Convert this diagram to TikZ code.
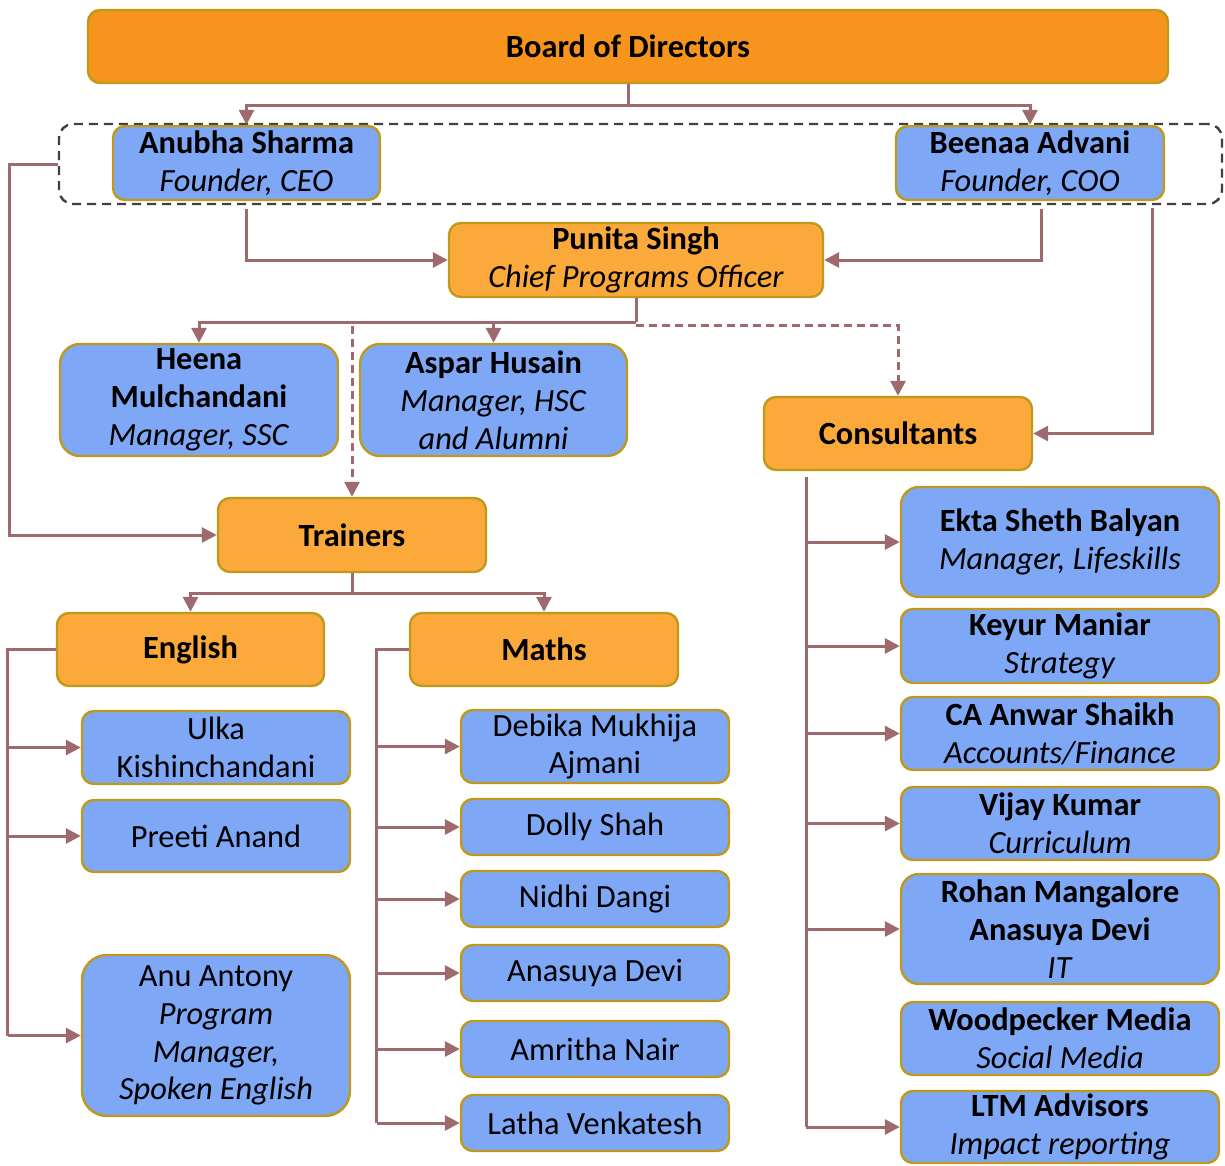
\documentclass[tikz,border=0pt]{standalone}
\usepackage{fontspec}
\setmainfont{Carlito}
\usetikzlibrary{arrows.meta}
\definecolor{dorange}{HTML}{F7941E}
\definecolor{lorange}{HTML}{FBA93B}
\definecolor{bblue}{HTML}{7EA7F6}
\definecolor{gold}{HTML}{BF9A1A}
\definecolor{conn}{HTML}{9E6A6D}
\definecolor{dgray}{HTML}{404040}
\begin{document}
\begin{tikzpicture}[x=1bp,y=-1bp,
 box/.style={draw=gold, line width=2.4bp, rounded corners=12bp, inner sep=0pt, align=center, font=\fontsize{32.5}{38}\selectfont},
 bluebox/.style={box, fill=bblue},
 orbox/.style={box, fill=lorange},
 ln/.style={draw=conn, line width=3bp},
 ar/.style={ln, -{Triangle[length=15bp,width=15bp]}},
 da/.style={ar, dash pattern=on 8bp off 5bp},
]
\useasboundingbox (0,0) rectangle (1225,1166);

% top
\node[box, fill=dorange, minimum width=1080bp, minimum height=73bp] (board) at (628,46.5) {\textbf{Board of Directors}};
\node[draw=dgray, line width=2.4bp, dash pattern=on 9bp off 6bp, rounded corners=14bp, minimum width=1163bp, minimum height=80bp, inner sep=0pt] (grp) at (640.5,164) {};
\node[bluebox, minimum width=267bp, minimum height=74bp] (anubha) at (246.5,163) {\textbf{Anubha Sharma}\\\textit{Founder, CEO}};
\node[bluebox, minimum width=268bp, minimum height=74bp] (beenaa) at (1030,163) {\textbf{Beenaa Advani}\\\textit{Founder, COO}};
\node[orbox, minimum width=374bp, minimum height=74bp] (punita) at (636,260) {\textbf{Punita Singh}\\\textit{Chief Programs Officer}};

% managers
\node[bluebox, rounded corners=20bp, minimum width=278bp, minimum height=112bp] (heena) at (199,400) {\textbf{Heena}\\\textbf{Mulchandani}\\\textit{Manager, SSC}};
\node[bluebox, rounded corners=20bp, minimum width=267bp, minimum height=112bp] (aspar) at (493.5,400) {\textbf{Aspar Husain}\\\textit{Manager, HSC}\\\textit{and Alumni}};
\node[orbox, minimum width=268bp, minimum height=73bp] (consult) at (898,433.5) {\textbf{Consultants}};
\node[orbox, minimum width=268bp, minimum height=74bp] (trainers) at (352,535) {\textbf{Trainers}};
\node[orbox, minimum width=267bp, minimum height=73bp] (english) at (190.5,649.5) {\textbf{English}};
\node[orbox, minimum width=268bp, minimum height=73bp] (maths) at (544,649.5) {\textbf{Maths}};

% english trainers
\node[bluebox, minimum width=268bp, minimum height=73bp] (ulka) at (216,747.5) {Ulka\\Kishinchandani};
\node[bluebox, minimum width=268bp, minimum height=72bp] (preeti) at (216,836) {Preeti Anand};
\node[bluebox, rounded corners=25bp, minimum width=268bp, minimum height=161bp] (anu) at (216,1035.5) {Anu Antony\\\textit{Program}\\\textit{Manager,}\\\textit{Spoken English}};

% maths trainers
\node[bluebox, minimum width=268bp, minimum height=73bp] (debika) at (595,746.5) {Debika Mukhija\\Ajmani};
\node[bluebox, minimum width=268bp, minimum height=56bp] (dolly) at (595,827) {Dolly Shah};
\node[bluebox, minimum width=268bp, minimum height=56bp] (nidhi) at (595,899) {Nidhi Dangi};
\node[bluebox, minimum width=268bp, minimum height=56bp] (anasuya) at (595,973) {Anasuya Devi};
\node[bluebox, minimum width=268bp, minimum height=56bp] (amritha) at (595,1049) {Amritha Nair};
\node[bluebox, minimum width=268bp, minimum height=56bp] (latha) at (595,1123) {Latha Venkatesh};

% consultants
\node[bluebox, rounded corners=18bp, minimum width=318bp, minimum height=110bp] (ekta) at (1060,542) {\textbf{Ekta Sheth Balyan}\\\textit{Manager, Lifeskills}};
\node[bluebox, minimum width=318bp, minimum height=74bp] (keyur) at (1060,646) {\textbf{Keyur Maniar}\\\textit{Strategy}};
\node[bluebox, minimum width=318bp, minimum height=73bp] (anwar) at (1060,733.5) {\textbf{CA Anwar Shaikh}\\\textit{Accounts/Finance}};
\node[bluebox, minimum width=318bp, minimum height=73bp] (vijay) at (1060,823.5) {\textbf{Vijay Kumar}\\\textit{Curriculum}};
\node[bluebox, rounded corners=18bp, minimum width=318bp, minimum height=110bp] (rohan) at (1060,929) {\textbf{Rohan Mangalore}\\\textbf{Anasuya Devi}\\\textit{IT}};
\node[bluebox, minimum width=318bp, minimum height=73bp] (wood) at (1060,1038.5) {\textbf{Woodpecker Media}\\\textit{Social Media}};
\node[bluebox, minimum width=318bp, minimum height=72bp] (ltm) at (1060,1127) {\textbf{LTM Advisors}\\\textit{Impact reporting}};

% connectors: board
\draw[ln] (board.south) -- ++(0,21) coordinate (bj);
\draw[ar] (bj) -| (anubha.north);
\draw[ar] (bj) -| (beenaa.north);

% founders to punita
\draw[ar] ([yshift=-8bp]anubha.south) |- (punita.west);
\draw[ar] ([xshift=11bp,yshift=-8bp]beenaa.south) |- (punita.east);
\coordinate (g1) at (1152,208);
\draw[ar] (g1) |- (consult.east);
\draw[ar] (grp.west) -- ++(-48,0) |- (trainers.west);

% punita to managers
\draw[ln] (punita.south) -- ++(0,24) coordinate (pj);
\draw[ar] (pj) -| (heena.north);
\draw[ar] (pj) -| (aspar.north);
\draw[da] ([yshift=-4bp]trainers.north |- pj) -- (trainers.north);
\draw[da] ([yshift=-3bp]pj) -| (consult.north);

% trainers
\draw[ln] (trainers.south) -- ++(0,20) coordinate (tj);
\draw[ar] (tj) -| (english.north);
\draw[ar] (tj) -| (maths.north);

% english
\draw[ln] (english.west) -- ++(-48,0) coordinate (ej) -- (ej |- anu.west);
\foreach \n in {ulka,preeti,anu} \draw[ar] (ej |- \n.west) -- (\n.west);

% maths
\draw[ln] (maths.west) -- ++(-32,0) coordinate (mj) -- (mj |- latha.west);
\foreach \n in {debika,dolly,nidhi,anasuya,amritha,latha} \draw[ar] (mj |- \n.west) -- (\n.west);

% consultants
\coordinate (cj) at ([xshift=-92bp,yshift=-6bp]consult.south);
\draw[ln] (cj) -- (cj |- ltm.west);
\foreach \n in {ekta,keyur,anwar,vijay,rohan,ltm} \draw[ar] (cj |- \n.west) -- (\n.west);
\end{tikzpicture}
\end{document}
